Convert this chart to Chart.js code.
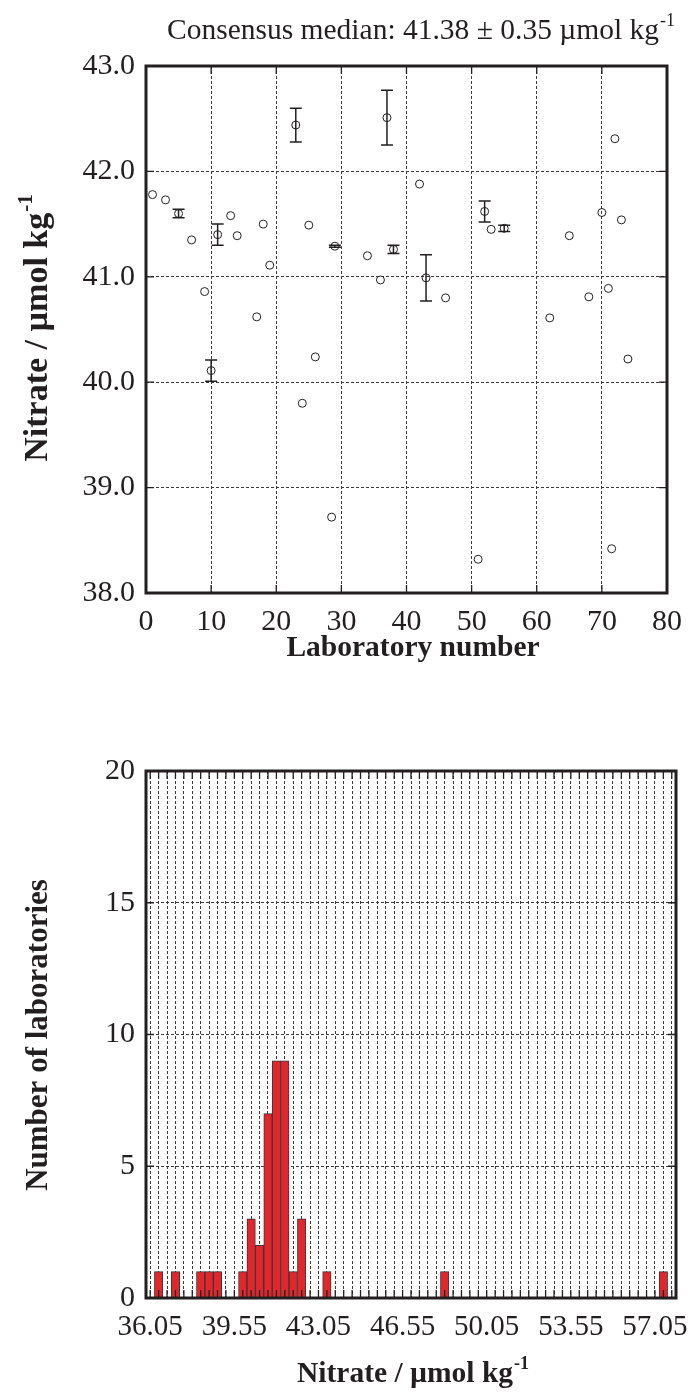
<!DOCTYPE html>
<html>
<head>
<meta charset="utf-8">
<script src="https://cdn.jsdelivr.net/npm/chart.js@4.4.0/dist/chart.umd.min.js"></script>
<style>
  body { margin: 0; background: #fff; }
  .box { position: relative; width: 693px; }
</style>
</head>
<body>
<div class="box" style="height:690px"><canvas id="labChart"></canvas></div>
<div class="box" style="height:704px"><canvas id="histChart"></canvas></div>
<script>
// lab results (top panel)
const labNumbers = [1, 3, 5, 7, 9, 10, 11, 13, 14, 17, 18, 19, 23, 24, 25, 26, 28.5, 29, 34, 36,
    37, 38, 42, 43, 46, 51, 52, 53, 55, 62, 65, 68, 70, 71, 71.5, 72, 73, 74];
const nitrate = [41.78, 41.73, 41.60, 41.35, 40.86, 40.11, 41.40, 41.58, 41.39, 40.62, 41.50, 41.11, 42.44, 39.80, 41.49, 40.24, 38.72, 41.29, 41.20, 40.97,
    42.51, 41.26, 41.88, 40.99, 40.80, 38.32, 41.62, 41.45, 41.46, 40.61, 41.39, 40.81, 41.61, 40.89, 38.42, 42.31, 41.54, 40.22];
const uncertainty = [0, 0, 0.04, 0, 0, 0.10, 0.10, 0, 0, 0, 0, 0, 0.16, 0, 0, 0, 0, 0.01, 0, 0,
    0.26, 0.04, 0, 0.22, 0, 0, 0.10, 0, 0.03, 0, 0, 0, 0, 0, 0, 0, 0, 0];

// histogram (bottom panel)
const binStart = 36.05;
const binWidth = 0.35;
const labCounts = [
    0, 1, 0, 1, 0, 0, 1, 1, 1, 0,
    0, 1, 3, 2, 7, 9, 9, 1, 3, 0,
    0, 1, 0, 0, 0, 0, 0, 0, 0, 0,
    0, 0, 0, 0, 0, 1, 0, 0, 0, 0,
    0, 0, 0, 0, 0, 0, 0, 0, 0, 0,
    0, 0, 0, 0, 0, 0, 0, 0, 0, 0,
    0, 1, 0
];
const histTicks = ['36.05', '39.55', '43.05', '46.55', '50.05', '53.55', '57.05'];

const ink = '#231f20';
const serif = "'Liberation Serif', 'Times New Roman', serif";
Chart.defaults.font.family = serif;
Chart.defaults.color = ink;
Chart.defaults.animation = false;

// text with a superscript, centred on x, baseline y
function drawLabel(ctx, text, sup, x, y, size, bold, rotate) {
    const w = bold ? 'bold ' : '';
    const big = w + size + 'px ' + serif;
    const small = w + Math.round(size * 0.62) + 'px ' + serif;
    ctx.save();
    ctx.translate(x, y);
    if (rotate) ctx.rotate(-Math.PI / 2);
    ctx.fillStyle = ink;
    ctx.textAlign = 'left';
    ctx.textBaseline = 'alphabetic';
    ctx.font = big;
    const w1 = ctx.measureText(text).width;
    ctx.font = small;
    const w2 = sup ? ctx.measureText(sup).width + 1 : 0;
    const left = -(w1 + w2) / 2;
    ctx.font = big;
    ctx.fillText(text, left, 0);
    if (sup) {
        ctx.font = small;
        ctx.fillText(sup, left + w1 + 1, -size * 0.45);
    }
    ctx.restore();
}

// frame and inward ticks on all four sides
const framePlugin = {
    id: 'frame',
    afterDatasetsDraw(chart, args, opts) {
        const ctx = chart.ctx;
        const a = chart.chartArea;
        const xs = chart.scales.x, ys = chart.scales.y;
        const len = opts.tick || 8;
        ctx.save();
        ctx.setLineDash([]);
        ctx.strokeStyle = ink;
        ctx.lineWidth = 1.3;
        ctx.beginPath();
        xs.ticks.forEach((t, i) => {
            const px = xs.getPixelForTick(i);
            ctx.moveTo(px, a.bottom); ctx.lineTo(px, a.bottom - len);
            ctx.moveTo(px, a.top); ctx.lineTo(px, a.top + len);
        });
        ys.ticks.forEach((t, i) => {
            const py = ys.getPixelForTick(i);
            ctx.moveTo(a.left, py); ctx.lineTo(a.left + len, py);
            ctx.moveTo(a.right, py); ctx.lineTo(a.right - len, py);
        });
        ctx.stroke();
        ctx.lineWidth = 3;
        ctx.strokeRect(a.left, a.top, a.right - a.left, a.bottom - a.top);
        ctx.restore();
        if (opts.labels) opts.labels(ctx);
    }
};

const errorBars = {
    id: 'errorBars',
    afterDatasetsDraw(chart) {
        const ctx = chart.ctx;
        const xs = chart.scales.x, ys = chart.scales.y;
        ctx.save();
        ctx.strokeStyle = ink;
        ctx.lineWidth = 1.5;
        ctx.beginPath();
        labNumbers.forEach((lab, i) => {
            if (!uncertainty[i]) return;
            const px = xs.getPixelForValue(lab);
            const hi = ys.getPixelForValue(nitrate[i] + uncertainty[i]);
            const lo = ys.getPixelForValue(nitrate[i] - uncertainty[i]);
            ctx.moveTo(px, hi); ctx.lineTo(px, lo);
            ctx.moveTo(px - 6, hi); ctx.lineTo(px + 6, hi);
            ctx.moveTo(px - 6, lo); ctx.lineTo(px + 6, lo);
        });
        ctx.stroke();
        ctx.restore();
    }
};

const gridStyle = { color: '#3a3a3a', lineWidth: 1, drawTicks: false };
const dashStyle = { display: false, dash: [3, 2] };

new Chart(document.getElementById('labChart'), {
    type: 'scatter',
    data: {
        datasets: [{
            data: labNumbers.map((lab, i) => ({ x: lab, y: nitrate[i] })),
            pointStyle: 'circle',
            pointRadius: 4,
            borderWidth: 1,
            borderColor: ink,
            backgroundColor: 'rgba(0,0,0,0)'
        }]
    },
    options: {
        responsive: true,
        maintainAspectRatio: false,
        layout: { padding: { top: 66, right: 17, bottom: 0, left: 0 } },
        plugins: {
            legend: { display: false },
            tooltip: { enabled: false },
            frame: {
                tick: 8,
                labels(ctx) {
                    drawLabel(ctx, 'Consensus median: 41.38 \u00b1 0.35 \u00b5mol kg', '-1', 421, 39, 29.5, false, false);
                    drawLabel(ctx, 'Laboratory number', '', 413, 656, 29.5, true, false);
                    drawLabel(ctx, 'Nitrate / \u00b5mol kg', '-1', 47, 328, 34, true, true);
                }
            }
        },
        scales: {
            x: {
                type: 'linear',
                min: 0, max: 80,
                afterFit(s) { s.height = 97; },
                ticks: { stepSize: 10, padding: 11, font: { size: 30 } },
                grid: gridStyle,
                border: dashStyle
            },
            y: {
                min: 38, max: 43,
                afterFit(s) { s.width = 146; },
                ticks: { stepSize: 1, padding: 11, font: { size: 30 }, callback: v => v.toFixed(1) },
                grid: gridStyle,
                border: dashStyle
            }
        }
    },
    plugins: [errorBars, framePlugin]
});

const binLabels = labCounts.map((c, i) => (binStart + i * binWidth).toFixed(2));

new Chart(document.getElementById('histChart'), {
    type: 'bar',
    data: {
        labels: binLabels,
        datasets: [{
            data: labCounts,
            backgroundColor: '#e1262c',
            borderColor: '#3b3536',
            borderWidth: 1,
            barPercentage: 1,
            categoryPercentage: 1
        }]
    },
    options: {
        responsive: true,
        maintainAspectRatio: false,
        layout: { padding: { top: 81, right: 17, bottom: 0, left: 0 } },
        plugins: {
            legend: { display: false },
            tooltip: { enabled: false },
            frame: {
                tick: 8,
                labels(ctx) {
                    drawLabel(ctx, 'Number of laboratories', '', 47, 345, 31, true, true);
                    drawLabel(ctx, 'Nitrate / \u00b5mol kg', '-1', 413, 692, 29.5, true, false);
                }
            }
        },
        scales: {
            x: {
                afterFit(s) { s.height = 96; },
                ticks: {
                    autoSkip: false, maxRotation: 0, minRotation: 0, padding: 12,
                    font: { size: 29 },
                    callback(v) {
                        const lab = this.getLabelForValue(v);
                        return histTicks.includes(lab) ? lab : '';
                    }
                },
                grid: Object.assign({ offset: false }, gridStyle),
                border: dashStyle
            },
            y: {
                min: 0, max: 20,
                afterFit(s) { s.width = 146; },
                ticks: { stepSize: 5, padding: 11, font: { size: 30 } },
                grid: gridStyle,
                border: dashStyle
            }
        }
    },
    plugins: [framePlugin]
});
</script>
</body>
</html>
